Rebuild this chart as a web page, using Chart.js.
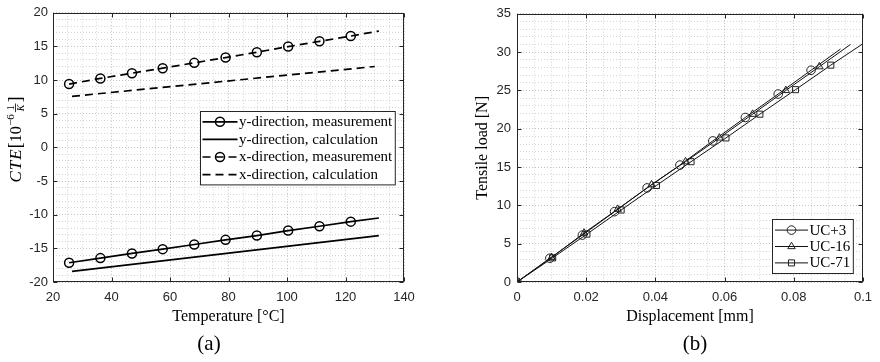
<!DOCTYPE html>
<html><head><meta charset="utf-8">
<script src="https://cdn.jsdelivr.net/npm/chart.js@4.4.0/dist/chart.umd.min.js"></script>
<style>
html,body{margin:0;padding:0;background:#fff;}
#wrap{position:relative;width:880px;height:362px;overflow:hidden;background:#fff;}
.cv{position:absolute;top:0;width:440px;height:362px;}
.cap{position:absolute;font-family:"Liberation Serif","Times New Roman",serif;font-size:21px;color:#000;transform:translate(-50%,-50%);white-space:nowrap;}
</style></head>
<body><div id="wrap">
<div class="cv" style="left:0"><canvas id="c1"></canvas></div>
<div class="cv" style="left:440px"><canvas id="c2"></canvas></div>
<div class="cap" style="left:209px;top:343px">(a)</div>
<div class="cap" style="left:695px;top:343px">(b)</div>
</div>
<script>
// ---------- panel (a): CTE vs temperature ----------
const tempMeas   = [25.5, 36.2, 47.0, 57.5, 68.3, 79.0, 89.7, 100.4, 111.1, 121.8, 131.4];
const cteYMeas   = [-17.14, -16.45, -15.76, -15.12, -14.43, -13.74, -13.10, -12.36, -11.72, -11.03, -10.49];
const cteXMeas   = [9.41, 10.25, 11.03, 11.77, 12.56, 13.35, 14.14, 14.98, 15.76, 16.55, 17.29];
const measMarker = [1, 1, 1, 1, 1, 1, 1, 1, 1, 1, 0];
const tempYCalc  = [26.5, 131.4];
const cteYCalc   = [-18.42, -13.10];
const tempXCalc  = [26.5, 130.0];
const cteXCalc   = [7.59, 12.02];
const seriesA    = ['y-direction, measurement', 'y-direction, calculation', 'x-direction, measurement', 'x-direction, calculation'];
const xTicksA    = [20, 40, 60, 80, 100, 120, 140];
const yTicksA    = [-20, -15, -10, -5, 0, 5, 10, 15, 20];
const xTitleA    = 'Temperature [°C]';

// ---------- panel (b): tensile load vs displacement ----------
const dispUC3   = [0, 0.0095, 0.0189, 0.0282, 0.0376, 0.0471, 0.0566, 0.0660, 0.0755, 0.0850, 0.0935];
const loadUC3   = [0, 3.10, 6.12, 9.18, 12.28, 15.26, 18.41, 21.47, 24.53, 27.63, 30.4];
const dispUC16  = [0, 0.0100, 0.0194, 0.0291, 0.0389, 0.0487, 0.0585, 0.0681, 0.0777, 0.0874, 0.0964];
const loadUC16  = [0, 3.2, 6.4, 9.5, 12.7, 15.7, 18.8, 21.9, 25.0, 28.1, 31.0];
const dispUC71  = [0, 0.0103, 0.0202, 0.0301, 0.0403, 0.0503, 0.0604, 0.0702, 0.0805, 0.0907, 0.1];
const loadUC71  = [0, 3.15, 6.25, 9.4, 12.6, 15.7, 18.8, 21.9, 25.1, 28.3, 31.1];
const markerB   = [1, 1, 1, 1, 1, 1, 1, 1, 1, 1, 0];
const seriesB   = ['UC+3', 'UC-16', 'UC-71'];
const xTicksB   = [0, 0.02, 0.04, 0.06, 0.08, 0.1];
const yTicksB   = [0, 5, 10, 15, 20, 25, 30, 35];
const xTitleB   = 'Displacement [mm]';
const yTitleB   = 'Tensile load [N]';

// ---------- helpers ----------
const SANS = '"Liberation Sans", Arial, Helvetica, sans-serif';
const SERIF = '"Liberation Serif", "Times New Roman", serif';
const AX = '#262626';
const pts = (xs, ys) => xs.map((x, i) => ({x: x, y: ys[i]}));
const isIn = (v, list) => list.some(t => Math.abs(t - v) < 1e-9 * Math.max(1, Math.abs(t)) + 1e-9);
const fmt = v => String(Math.round(v * 1000) / 1000);

const boxPlugin = {
  id: 'boxTicks',
  afterDatasetsDraw(chart, args, o) {
    const {ctx, chartArea: ca, scales} = chart;
    const L = Math.round(ca.left) + 0.5, R = Math.round(ca.right) - 0.5;
    const T = Math.round(ca.top) + 0.5, B = Math.round(ca.bottom) - 0.5;
    ctx.save();
    ctx.strokeStyle = AX; ctx.lineWidth = 1; ctx.setLineDash([]);
    ctx.strokeRect(L, T, R - L, B - T);
    const tl = 4;
    ctx.beginPath();
    o.xMajor.forEach(v => {
      const p = Math.round(scales.x.getPixelForValue(v)) + 0.5;
      ctx.moveTo(p, B); ctx.lineTo(p, B - tl);
      ctx.moveTo(p, T); ctx.lineTo(p, T + tl);
    });
    o.yMajor.forEach(v => {
      const p = Math.round(scales.y.getPixelForValue(v)) + 0.5;
      ctx.moveTo(L, p); ctx.lineTo(L + tl, p);
      ctx.moveTo(R, p); ctx.lineTo(R - tl, p);
    });
    ctx.stroke();
    ctx.restore();
  }
};

const legendPlugin = {
  id: 'boxLegend',
  afterDraw(chart, args, o) {
    const ctx = chart.ctx, ca = chart.chartArea;
    const dss = chart.data.datasets;
    ctx.save();
    ctx.font = o.font;
    const tw = Math.max(...dss.map(d => ctx.measureText(d.label).width));
    const w = o.padL + o.sampleLen + o.textGap + tw + o.padR;
    const h = dss.length * o.rowH + 2 * o.padV;
    const bx = Math.round(ca.right - o.right - w) + 0.5;
    const by = Math.round(o.top != null ? ca.top + o.top : ca.bottom - o.bottom - h) + 0.5;
    ctx.fillStyle = '#fff';
    ctx.fillRect(bx, by, w, h);
    ctx.strokeStyle = AX; ctx.lineWidth = 1;
    ctx.strokeRect(bx, by, w, h);
    dss.forEach((d, i) => {
      const cy = by + o.padV + o.rowH * (i + 0.5);
      const x0 = bx + o.padL, x1 = x0 + o.sampleLen;
      ctx.strokeStyle = d.borderColor; ctx.lineWidth = d.borderWidth;
      ctx.setLineDash(d.borderDash || []);
      ctx.beginPath(); ctx.moveTo(x0, cy); ctx.lineTo(x1, cy); ctx.stroke();
      ctx.setLineDash([]);
      if (d.legendMarker) {
        ctx.strokeStyle = d.pointBorderColor; ctx.fillStyle = 'rgba(0,0,0,0)';
        ctx.lineWidth = d.pointBorderWidth;
        Chart.helpers.drawPoint(ctx, {pointStyle: d.pointStyle, rotation: 0, radius: d.legendRadius, borderWidth: d.pointBorderWidth}, (x0 + x1) / 2, cy);
      }
      ctx.fillStyle = '#000'; ctx.font = o.font;
      ctx.textBaseline = 'middle'; ctx.textAlign = 'left';
      ctx.fillText(d.label, x1 + o.textGap, cy + 0.5);
    });
    ctx.restore();
  }
};

const cteTitlePlugin = {
  id: 'cteTitle',
  afterDraw(chart, args, o) {
    if (!o || !o.enabled) return;
    const ctx = chart.ctx;
    const segs = [
      {t: 'C', f: 'italic 17px ' + SERIF, dy: 0, gap: 1},
      {t: 'T', f: 'italic 17px ' + SERIF, dy: 0, gap: 1},
      {t: 'E', f: 'italic 17px ' + SERIF, dy: 0, gap: 1},
      {t: '[', f: '18px ' + SERIF, dy: 0.5, gap: 0},
      {t: '10', f: '16px ' + SERIF, dy: 0, gap: 0.5},
      {t: '−6', f: '11px ' + SERIF, dy: -6.5, gap: 2},
      {frac: ['1', 'K'], f: '10px ' + SERIF, gap: 1},
      {t: ']', f: '18px ' + SERIF, dy: 0.5, gap: 0}
    ];
    ctx.save();
    segs.forEach(s => {
      if (s.frac) {
        ctx.font = s.f;
        const a = ctx.measureText(s.frac[0]).width;
        ctx.font = 'italic ' + s.f;
        const b = ctx.measureText(s.frac[1]).width;
        s.w = Math.max(a, b) + 2; s.wa = a; s.wb = b;
      } else { ctx.font = s.f; s.w = ctx.measureText(s.t).width; }
    });
    const total = segs.reduce((acc, s) => acc + s.w + s.gap, 0) - segs[segs.length - 1].gap;
    ctx.translate(o.x, o.y); ctx.rotate(-Math.PI / 2);
    ctx.fillStyle = '#000'; ctx.textBaseline = 'alphabetic'; ctx.textAlign = 'left';
    const base = 5.5;
    let x = -total / 2;
    segs.forEach(s => {
      if (s.frac) {
        ctx.font = s.f;
        ctx.fillText(s.frac[0], x + (s.w - s.wa) / 2, base - 6.5);
        ctx.font = 'italic ' + s.f;
        ctx.fillText(s.frac[1], x + (s.w - s.wb) / 2, base + 3.5);
        ctx.fillRect(x, base - 5.5, s.w, 0.8);
      } else {
        ctx.font = s.f;
        ctx.fillText(s.t, x, base + s.dy);
      }
      x += s.w + s.gap;
    });
    ctx.restore();
  }
};

function axisOpts(min, max, step, major, afterFitFn, pad, title) {
  return {
    type: 'linear', min: min, max: max,
    afterFit: afterFitFn,
    ticks: {
      stepSize: step, autoSkip: false, maxRotation: 0, padding: pad,
      color: AX, font: {family: SANS, size: 13},
      callback: v => (isIn(v, major) ? fmt(v) : '')
    },
    grid: {
      drawTicks: false,
      color: c => (c.tick && isIn(c.tick.value, major) ? 'rgba(0,0,0,0.24)' : 'rgba(0,0,0,0.16)'),
      lineWidth: 1
    },
    border: {display: false, dash: [1, 2]},
    title: title
  };
}

const baseOpts = {
  responsive: true, maintainAspectRatio: false, animation: false,
  events: [],
  elements: {line: {tension: 0}}
};

// ---------- chart (a) ----------
const dsA = [
  {label: seriesA[0], data: pts(tempMeas, cteYMeas), borderColor: '#000', borderWidth: 1.7,
   pointStyle: 'circle', pointRadius: measMarker.map(m => m ? 4.5 : 0), legendRadius: 4.5, legendMarker: true,
   pointBorderColor: '#000', pointBackgroundColor: 'rgba(0,0,0,0)', pointBorderWidth: 1.5},
  {label: seriesA[1], data: pts(tempYCalc, cteYCalc), borderColor: '#000', borderWidth: 1.7, pointRadius: 0},
  {label: seriesA[2], data: pts(tempMeas, cteXMeas), borderColor: '#000', borderWidth: 1.7, borderDash: [8, 5],
   pointStyle: 'circle', pointRadius: measMarker.map(m => m ? 4.5 : 0), legendRadius: 4.5, legendMarker: true,
   pointBorderColor: '#000', pointBackgroundColor: 'rgba(0,0,0,0)', pointBorderWidth: 1.5},
  {label: seriesA[3], data: pts(tempXCalc, cteXCalc), borderColor: '#000', borderWidth: 1.7, borderDash: [8, 5], pointRadius: 0}
];

new Chart(document.getElementById('c1'), {
  type: 'line',
  data: {datasets: dsA},
  options: Object.assign({}, baseOpts, {
    layout: {padding: {top: 11, right: 36, bottom: 30, left: 0}},
    scales: {
      x: axisOpts(20, 140, 5, xTicksA, s => { s.height = 50; }, 8,
        {display: true, text: xTitleA, color: '#000', font: {family: SERIF, size: 16}, padding: {top: 0, bottom: 6}}),
      y: axisOpts(-20, 20, 1, yTicksA, s => { s.width = 53; }, 5, {display: false})
    },
    plugins: {
      legend: {display: false}, tooltip: {enabled: false},
      boxTicks: {xMajor: xTicksA, yMajor: yTicksA},
      boxLegend: {font: '15px ' + SERIF, padL: 2, sampleLen: 35, textGap: 1.5, padR: 3, rowH: 17.6, padV: 1.5, right: 9, top: 98},
      cteTitle: {enabled: true, x: 15, y: 139.5}
    }
  }),
  plugins: [boxPlugin, legendPlugin, cteTitlePlugin]
});

// ---------- chart (b) ----------
const mkB = (label, xs, ys, style) => ({
  label: label, data: pts(xs, ys), borderColor: '#111', borderWidth: 1,
  pointStyle: style, pointRadius: markerB.map(m => m ? 4.3 : 0), legendRadius: 4.3, legendMarker: true,
  pointBorderColor: '#222', pointBackgroundColor: 'rgba(0,0,0,0)', pointBorderWidth: 1
});
const dsB = [
  mkB(seriesB[0], dispUC3, loadUC3, 'circle'),
  mkB(seriesB[1], dispUC16, loadUC16, 'triangle'),
  mkB(seriesB[2], dispUC71, loadUC71, 'rect')
];

new Chart(document.getElementById('c2'), {
  type: 'line',
  data: {datasets: dsB},
  options: Object.assign({}, baseOpts, {
    layout: {padding: {top: 11, right: 12, bottom: 30, left: 0}},
    scales: {
      x: axisOpts(0, 0.1, 0.005, xTicksB, s => { s.height = 50; }, 8,
        {display: true, text: xTitleB, color: '#000', font: {family: SERIF, size: 16}, padding: {top: 0, bottom: 6}}),
      y: axisOpts(0, 35, 1, yTicksB, s => { s.width = 77; }, 6,
        {display: true, text: yTitleB, color: '#000', font: {family: SERIF, size: 16}, padding: {top: 33, bottom: 0}})
    },
    plugins: {
      legend: {display: false}, tooltip: {enabled: false},
      boxTicks: {xMajor: xTicksB, yMajor: yTicksB},
      boxLegend: {font: '15px ' + SERIF, padL: 2.5, sampleLen: 33, textGap: 1.5, padR: 3, rowH: 16.4, padV: 2.4, right: 10, bottom: 9}
    }
  }),
  plugins: [boxPlugin, legendPlugin]
});
</script>
</body></html>
